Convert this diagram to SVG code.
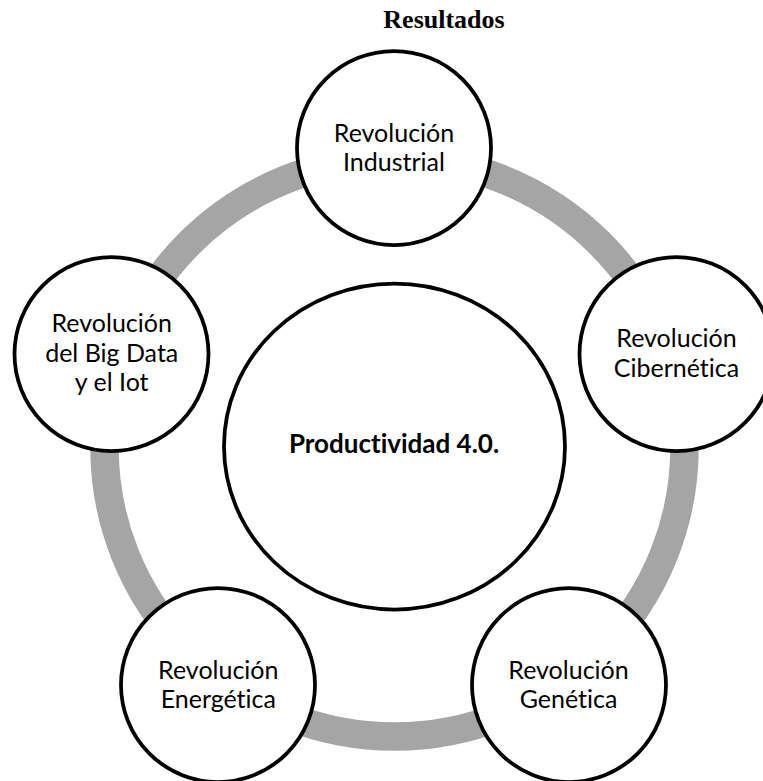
<svg xmlns="http://www.w3.org/2000/svg" width="763" height="781" viewBox="0 0 763 781">
  <style>
    .ring { fill: none; stroke: #A5A5A5; stroke-width: 28.5; }
    .node { fill: #FFFFFF; stroke: #000000; stroke-width: 3.75; }
    .lbl { font-family: Lato, "Liberation Sans", sans-serif; font-size: 25px; fill: #000000; text-anchor: middle; font-variant-ligatures: none; }
    .hub { font-family: Lato, "Liberation Sans", sans-serif; font-size: 26px; font-weight: bold; fill: #000000; text-anchor: middle; font-variant-ligatures: none; }
    .title { font-family: "Liberation Serif", serif; font-size: 26px; font-weight: bold; fill: #000000; text-anchor: middle; }
  </style>
  <rect x="0" y="0" width="763" height="781" fill="#FFFFFF"/>
  <text class="title" x="444" y="28">Resultados</text>
  <g id="connectors">
    <ellipse class="ring" cx="394.5" cy="447.5" rx="290" ry="289"/>
  </g>
  <g id="hub">
    <ellipse class="node" cx="394.5" cy="446.5" rx="170.5" ry="163"/>
    <text class="hub" x="394" y="453">Productividad 4.0.</text>
  </g>
  <g id="node-industrial">
    <circle class="node" cx="394" cy="148" r="97"/>
    <text class="lbl" x="394" y="141.5">Revolución</text>
    <text class="lbl" x="394" y="170.5">Industrial</text>
  </g>
  <g id="node-cibernetica">
    <circle class="node" cx="676.5" cy="354" r="97"/>
    <text class="lbl" x="676.5" y="347">Revolución</text>
    <text class="lbl" x="676.5" y="376.5">Cibernética</text>
  </g>
  <g id="node-genetica">
    <circle class="node" cx="569" cy="685" r="97"/>
    <text class="lbl" x="568.5" y="679.3">Revolución</text>
    <text class="lbl" x="568.5" y="708.3">Genética</text>
  </g>
  <g id="node-energetica">
    <circle class="node" cx="218" cy="685" r="97"/>
    <text class="lbl" x="218.3" y="679.3">Revolución</text>
    <text class="lbl" x="218.3" y="708.3">Energética</text>
  </g>
  <g id="node-bigdata">
    <circle class="node" cx="111.5" cy="354" r="97"/>
    <text class="lbl" x="111.7" y="332">Revolución</text>
    <text class="lbl" x="111.7" y="361.5">del Big Data</text>
    <text class="lbl" x="111.7" y="390.5">y el Iot</text>
  </g>
</svg>
